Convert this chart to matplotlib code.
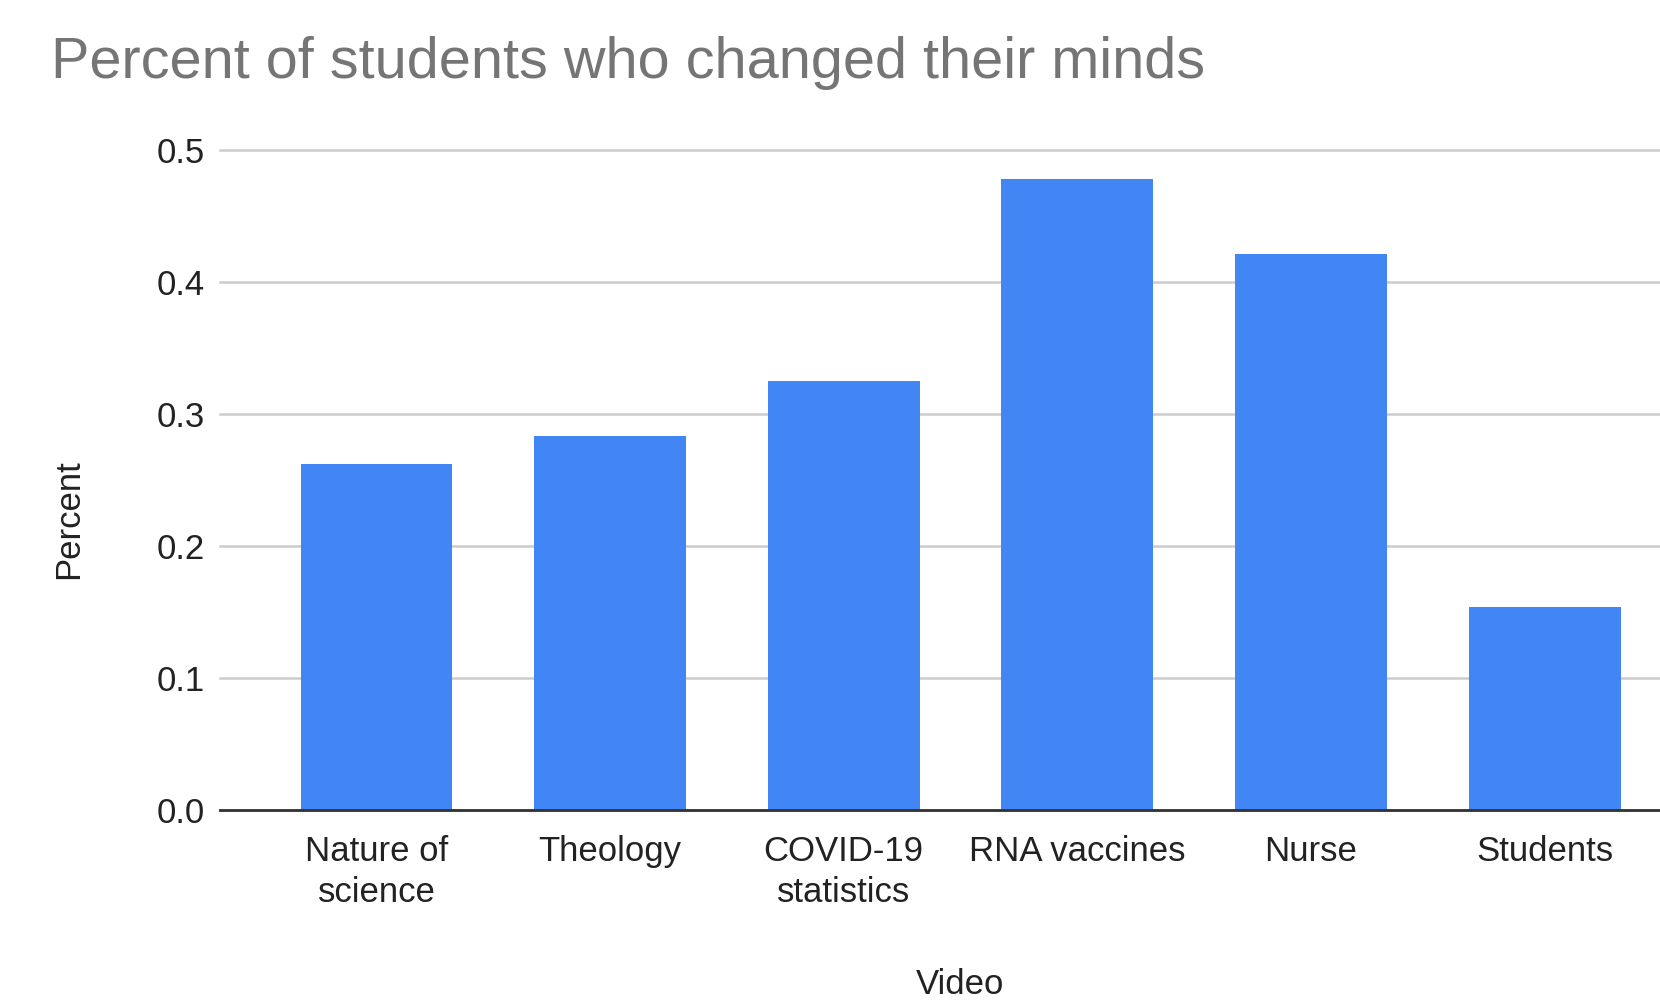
import numpy as np
import matplotlib
matplotlib.use("Agg")
import matplotlib.pyplot as plt

plt.rcParams['font.family'] = ['Liberation Sans', 'DejaVu Sans']

# data
videos = ["Nature of\nscience", "Theology", "COVID-19\nstatistics",
          "RNA vaccines", "Nurse", "Students"]
percent = [0.262, 0.283, 0.325, 0.478, 0.421, 0.154]
yticks = [0.0, 0.1, 0.2, 0.3, 0.4, 0.5]

fig = plt.figure(figsize=(16.6, 10.02), dpi=100)
ax = fig.add_axes([0.1325, 0.1916, 0.8675, 0.6587])

x = np.arange(len(videos))
ax.bar(x, percent, width=0.65, color="#4285F4", zorder=3)

ax.set_xlim(-0.67, 5.494)
ax.set_ylim(0, 0.5)
ax.set_yticks(yticks)
ax.set_yticklabels([f"{v:.1f}" for v in yticks])
ax.set_xticks(x)
ax.set_xticklabels(videos, linespacing=1.32)

ax.grid(axis="y", color="#cccccc", linewidth=1.8, zorder=0, clip_on=False)
for s in ["top", "right", "left"]:
    ax.spines[s].set_visible(False)
ax.spines["bottom"].set_color("#333333")
ax.spines["bottom"].set_linewidth(2)
ax.spines["bottom"].set_zorder(4)

ax.tick_params(axis="both", length=0, labelsize=25, colors="#222222")
ax.tick_params(axis="y", pad=11)
ax.tick_params(axis="x", pad=18)

ax.set_ylabel("Percent", fontsize=25, color="#222222", va="center")
ax.yaxis.set_label_coords((69 - 220) / 1440, (810 - 519) / 660)
ax.set_xlabel("Video", fontsize=25, color="#222222", va="center")
ax.xaxis.set_label_coords((960 - 220) / 1440, (810 - 984) / 660)

fig.text(51 / 1660, 1 - 63 / 1002, "Percent of students who changed their minds",
         fontsize=41.5, color="#757575", va="center", ha="left")

fig.savefig("out.png", dpi=100, facecolor="white")
